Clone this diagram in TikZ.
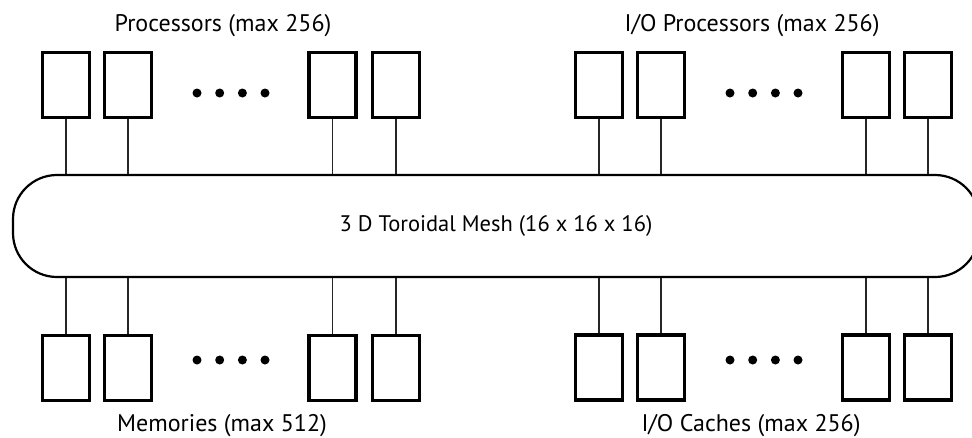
\documentclass[tikz,border=0pt]{standalone}
\usepackage{fontspec}
\setmainfont{PT Sans}
\usetikzlibrary{positioning}
\tikzset{
    unit/.style={draw, line width=3.2, minimum width=47, minimum height=65,
                 inner sep=0pt},
    mesh/.style={draw, line width=2.2, rounded corners=44, minimum width=966,
                 minimum height=102, inner sep=0pt, font=\fontsize{22.5}{26}\selectfont},
    link/.style={-, line width=1.3, black!85},
    dot/.style={circle, fill, inner sep=0pt, minimum size=9},
    caption/.style={anchor=base, font=\fontsize{24}{28}\selectfont},
}

\begin{document}
\begin{tikzpicture}[x=1pt, y=-1pt]
    \useasboundingbox (0,0) rectangle (972,437);
    \clip (0,0) rectangle (972,437);

    \node[mesh] (mesh) at (496,226) {3 D Toroidal Mesh (16 x 16 x 16)};

    % processors and I/O processors on top
    \foreach \x [count=\i] in {66,128,332.5,396} {
        \node[unit] (P\i) at (\x,85) {};
        \draw[link] (P\i.south) -- (P\i.south |- mesh.north);
    }
    \foreach \x [count=\i] in {599,661,866,928} {
        \node[unit] (IOP\i) at (\x,85) {};
        \draw[link] (IOP\i.south) -- (IOP\i.south |- mesh.north);
    }

    % memories and I/O caches below
    \foreach \x [count=\i] in {66,128,332.5,396} {
        \node[unit] (M\i) at (\x,368) {};
        \draw[link] (M\i.north) -- (M\i.north |- mesh.south);
    }
    \foreach \x [count=\i] in {599,661,866,928} {
        \node[unit] (C\i) at (\x,367.5) {};
        \draw[link] (C\i.north) -- (C\i.north |- mesh.south);
    }

    % ellipsis dots
    \foreach \x [count=\i] in {197,219.7,242.4,265} {
        \node[dot] (pd\i) at (\x,93) {};
        \node[dot] (md\i) at (\x,360) {};
    }
    \foreach \x [count=\i] in {730,752.7,775.4,798} {
        \node[dot] (iod\i) at (\x,93) {};
        \node[dot] (cd\i) at (\x,360) {};
    }

    \node[caption] (procs) at (223,31.5) {Processors (max 256)};
    \node[caption] (ioprocs) at (752,31.5) {I/O Processors (max 256)};
    \node[caption] (mems) at (222,431) {Memories (max 512)};
    \node[caption] (caches) at (751,431) {I/O Caches (max 256)};
\end{tikzpicture}
\end{document}
